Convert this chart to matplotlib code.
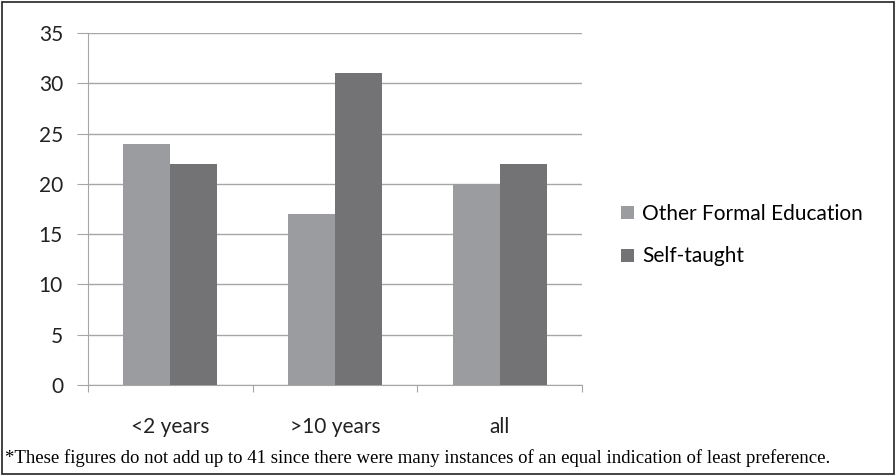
import matplotlib.pyplot as plt
import numpy as np
from matplotlib.patches import Rectangle

categories = ['<2 years', '>10 years', 'all']
other_formal = [24, 17, 20]
self_taught = [22, 31, 22]
series_names = ['Other Formal Education', 'Self-taught']
y_ticks = [0, 5, 10, 15, 20, 25, 30, 35]
footnote = ('*These figures do not add up to 41 since there were many instances '
            'of an equal indication of least preference.')

W, H = 896, 475
fig = plt.figure(figsize=(W / 100, H / 100), dpi=100)
plt.rcParams['font.family'] = ['Lato', 'DejaVu Sans']

ax = fig.add_axes([88 / W, (H - 385) / H, 494 / W, (385 - 33) / H])

x = np.arange(len(categories))
bw = 0.285
c_light = '#9b9c9f'
c_dark = '#737375'
ax.bar(x - bw / 2, other_formal, bw, color=c_light, label=series_names[0], zorder=3)
ax.bar(x + bw / 2, self_taught, bw, color=c_dark, label=series_names[1], zorder=3)

ax.set_xlim(-0.5, len(categories) - 0.5)
ax.set_ylim(0, 35)
ax.set_yticks(y_ticks)
ax.set_yticklabels([str(t) for t in y_ticks], fontsize=15, color='#222222')
ax.yaxis.grid(True, color='#a6a6a6', linewidth=1, zorder=0)
ax.tick_params(axis='y', length=8, color='#a6a6a6', pad=10)

ax.set_xticks(np.arange(len(categories) + 1) - 0.5, minor=False)
ax.set_xticklabels([])
ax.set_xticks(x, minor=True)
ax.set_xticklabels(categories, minor=True, fontsize=15, color='#222222')
ax.tick_params(axis='x', which='major', length=5, color='#a6a6a6', direction='out')
ax.tick_params(axis='x', which='minor', length=0, pad=23)

for s in ['top', 'right']:
    ax.spines[s].set_visible(False)
ax.spines['left'].set_color('#a6a6a6')
ax.spines['bottom'].set_color('#a6a6a6')

fig.legend(loc='center left', bbox_to_anchor=(621 / W, (H - 235) / H),
           frameon=False, fontsize=15, handlelength=0.6, handleheight=0.6,
           handletextpad=0.4, labelspacing=1.1, borderaxespad=0,
           borderpad=0)

fig.text(5 / W, (H - 458) / H, footnote, fontsize=13.5,
         family='Liberation Serif', va='center', ha='left')

fig.add_artist(Rectangle((2 / W, 1 / H), (W - 4) / W, (H - 3) / H,
                         transform=fig.transFigure, fill=False,
                         edgecolor='#222222', linewidth=1.2))

fig.savefig('out.png', dpi=100)
